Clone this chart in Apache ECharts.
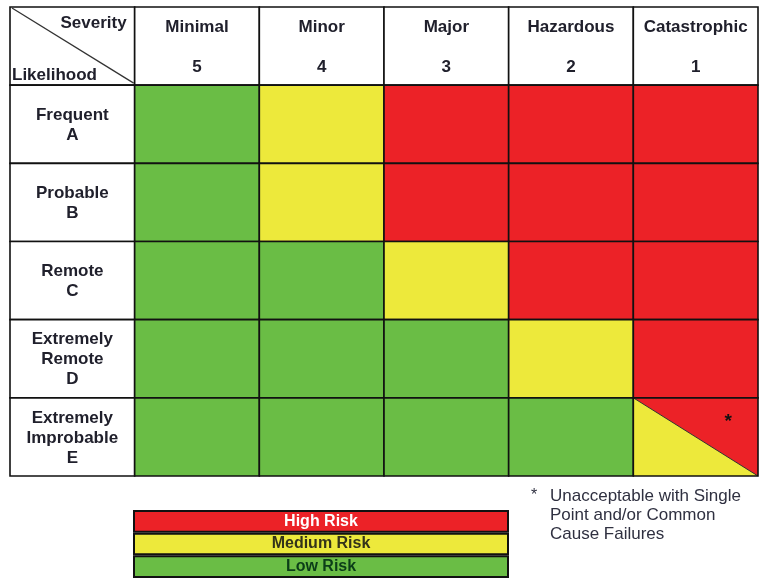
<!DOCTYPE html>
<html>
<head>
<meta charset="utf-8">
<script src="https://cdn.jsdelivr.net/npm/echarts@6/dist/echarts.min.js"></script>
<style>
  html, body { margin: 0; padding: 0; background: #fff; }
  #chart { width: 764px; height: 581px; }
</style>
</head>
<body>
<div id="chart"></div>
<script>
// Risk matrix data
const severity = ['Minimal', 'Minor', 'Major', 'Hazardous', 'Catastrophic']
const severityRank = ['5', '4', '3', '2', '1']
const likelihood = [['Frequent'], ['Probable'], ['Remote'], ['Extremely', 'Remote'], ['Extremely', 'Improbable']]
const likelihoodCode = ['A', 'B', 'C', 'D', 'E']
// L = low, M = medium, H = high, MH = split medium / high (*)
const riskMatrix = [
  ['L', 'M', 'H', 'H', 'H'],
  ['L', 'M', 'H', 'H', 'H'],
  ['L', 'L', 'M', 'H', 'H'],
  ['L', 'L', 'L', 'M', 'H'],
  ['L', 'L', 'L', 'L', 'MH'],
]
const legendLabels = ['High Risk', 'Medium Risk', 'Low Risk']
const legendValues = [1, 1, 1]
const footnote = ['Unacceptable with Single', 'Point and/or Common', 'Cause Failures']

const RED = '#ec2227'
const YELLOW = '#ede93b'
const GREEN = '#6abd45'
const fills = { L: GREEN, M: YELLOW, H: RED }
const legendColors = [RED, YELLOW, GREEN]
const legendTextColors = ['#ffffff', '#33331a', '#0b3d18']
const textColor = '#20202c'
const font = 'bold 17px "Liberation Sans", Arial, sans-serif'

// Build the table cells (header row + label column + risk cells)
const cells = [{ col: 0, row: 0, kind: 'corner' }]
severity.forEach((name, i) => {
  cells.push({ col: i + 1, row: 0, kind: 'head', text: name + '\n\n' + severityRank[i] })
})
likelihood.forEach((name, j) => {
  cells.push({ col: 0, row: j + 1, kind: 'label', text: name.concat(likelihoodCode[j]).join('\n') })
  riskMatrix[j].forEach((lvl, i) => {
    cells.push({ col: i + 1, row: j + 1, kind: lvl })
  })
})

function renderCell(params, api) {
  const cell = cells[params.dataIndex]
  const ctr = api.coord([api.value(0), api.value(1)])
  const size = api.size([1, 1])
  const x = ctr[0] - size[0] / 2
  const y = ctr[1] - size[1] / 2
  const w = size[0]
  const h = size[1]
  const border = { stroke: '#111', lineWidth: 1.6 }
  const children = []

  if (cell.kind === 'MH') {
    children.push({ type: 'rect', shape: { x, y, width: w, height: h }, style: { fill: YELLOW } })
    children.push({
      type: 'polygon',
      shape: { points: [[x, y], [x + w, y], [x + w, y + h]] },
      style: { fill: RED },
    })
    children.push({
      type: 'line',
      shape: { x1: x, y1: y, x2: x + w, y2: y + h },
      style: { stroke: '#333', lineWidth: 1 },
    })
    children.push({
      type: 'text',
      style: {
        text: '*', x: x + w * 0.76, y: y + h * 0.3, align: 'center', verticalAlign: 'middle',
        font: 'bold 19px "Liberation Sans", Arial', fill: '#111',
      },
    })
    children.push({ type: 'rect', shape: { x, y, width: w, height: h }, style: { fill: 'none', ...border } })
  } else if (fills[cell.kind]) {
    children.push({ type: 'rect', shape: { x, y, width: w, height: h }, style: { fill: fills[cell.kind], ...border } })
  } else {
    children.push({ type: 'rect', shape: { x, y, width: w, height: h }, style: { fill: '#fff', ...border } })
    if (cell.kind === 'corner') {
      children.push({
        type: 'line',
        shape: { x1: x + 2, y1: y + 1, x2: x + w - 1, y2: y + h - 2 },
        style: { stroke: '#333', lineWidth: 1.3 },
      })
      children.push({
        type: 'text',
        style: { text: 'Severity', x: x + w - 8, y: y + 16, align: 'right', verticalAlign: 'middle', font, fill: textColor },
      })
      children.push({
        type: 'text',
        style: { text: 'Likelihood', x: x + 2, y: y + h - 10, align: 'left', verticalAlign: 'middle', font, fill: textColor },
      })
    } else {
      children.push({
        type: 'text',
        style: {
          text: cell.text, x: x + w / 2, y: y + h / 2 + 1, align: 'center', verticalAlign: 'middle',
          font, lineHeight: 20, fill: textColor,
        },
      })
    }
  }
  return { type: 'group', children }
}

const chart = echarts.init(document.getElementById('chart'), null, { renderer: 'canvas' })

chart.setOption({
  animation: false,
  backgroundColor: '#fff',
  grid: [
    { left: 10, top: 7, width: 748, height: 469 },
    { left: 133, top: 510, width: 376, height: 68 },
  ],
  xAxis: [
    { type: 'category', gridIndex: 0, data: [''].concat(severity), show: false },
    { type: 'value', gridIndex: 1, min: 0, max: 1, show: false },
  ],
  yAxis: [
    { type: 'category', gridIndex: 0, data: [''].concat(likelihoodCode), inverse: true, show: false },
    { type: 'category', gridIndex: 1, data: legendLabels, inverse: true, show: false },
  ],
  series: [
    {
      type: 'custom',
      xAxisIndex: 0,
      yAxisIndex: 0,
      renderItem: renderCell,
      data: cells.map((c) => [c.col, c.row]),
      silent: true,
    },
    {
      type: 'bar',
      xAxisIndex: 1,
      yAxisIndex: 1,
      barWidth: '100%',
      silent: true,
      data: legendValues.map((v, i) => ({
        value: v,
        itemStyle: { color: legendColors[i], borderColor: '#111', borderWidth: 2 },
        label: { color: legendTextColors[i] },
      })),
      label: {
        show: true,
        position: 'inside',
        formatter: '{b}',
        fontFamily: '"Liberation Sans", Arial, sans-serif',
        fontWeight: 'bold',
        fontSize: 16,
      },
    },
  ],
  graphic: [
    {
      type: 'text',
      left: 531,
      top: 488,
      style: { text: '*', font: '16px "Liberation Sans", Arial', fill: '#2f3040' },
    },
    {
      type: 'text',
      left: 550,
      top: 487,
      style: { text: footnote.join('\n'), font: '17px "Liberation Sans", Arial', lineHeight: 19, fill: '#2f3040' },
    },
  ],
})
</script>
</body>
</html>
